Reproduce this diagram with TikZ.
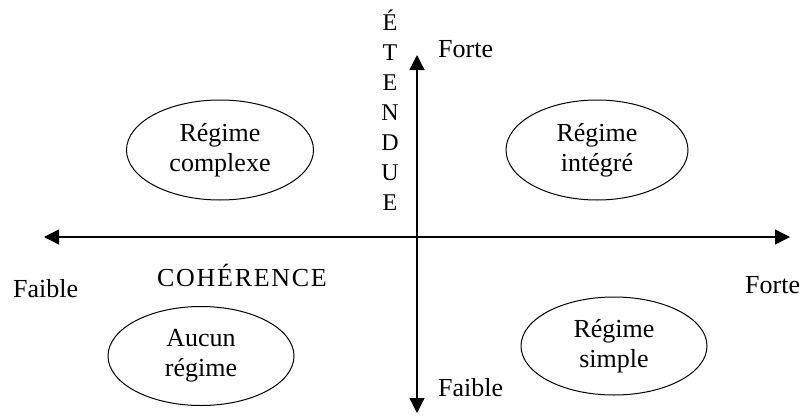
\documentclass[tikz,border=0pt]{standalone}
\usepackage{fontspec}
\setmainfont{Liberation Serif}
\usetikzlibrary{arrows.meta,shapes.geometric}
\begin{document}
\begin{tikzpicture}[x=1pt,y=-1pt,
  lbl/.style={inner sep=0pt,anchor=base west,font=\fontsize{26}{30}\selectfont},
  regime/.style={draw,ellipse,line width=1pt,inner sep=0pt,align=center,
    font=\fontsize{26}{30}\selectfont},
  axis/.style={line width=1.3pt,{Triangle[length=15pt,width=15pt]}-{Triangle[length=15pt,width=15pt]}},
  vletter/.style={inner sep=0pt,anchor=base,font=\fontsize{24}{26}\selectfont}]
\useasboundingbox (0,0) rectangle (803,415);
\coordinate (L) at (44,237);
\coordinate (R) at (790,237);
\coordinate (T) at (417,55);
\coordinate (B) at (417,413);
\draw[axis] (L) -- (R);
\draw[axis] (B) -- (T);
\foreach \ch [count=\i from 0] in {É,T,E,N,D,U,E}
  \node[vletter] (v\i) at (390,30+30*\i) {\ch};
\node[lbl] (fortetop) at (438,57) {Forte};
\node[lbl] (faiblebot) at (438,396) {Faible};
\node[lbl] (forteright) at (745,293) {Forte};
\node[lbl] (faibleleft) at (13,297) {Faible};
\node[lbl] (coh) at (157,286) {C\kern1.7pt O\kern1.7pt H\kern1.7pt É\kern1.7pt R\kern1.7pt E\kern1.7pt N\kern1.7pt C\kern1.7pt E};
\node[regime,minimum width=187pt,minimum height=100pt] (tl) at (220,150) {Régime\\complexe};
\node[regime,minimum width=182pt,minimum height=100pt] (tr) at (597,150) {Régime\\intégré};
\node[regime,minimum width=186pt,minimum height=99pt] (bl) at (201,356) {Aucun\\régime};
\node[regime,minimum width=186pt,minimum height=98pt] (br) at (614,346) {Régime\\simple};
\end{tikzpicture}
\end{document}
